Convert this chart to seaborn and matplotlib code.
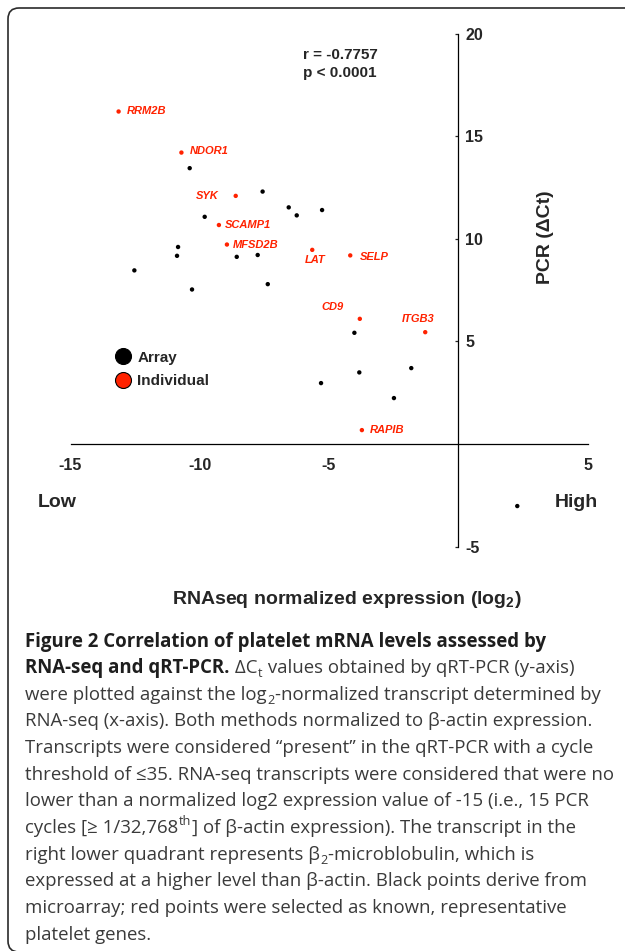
import numpy as np
import pandas as pd
import matplotlib
matplotlib.use("Agg")
import matplotlib.pyplot as plt
from matplotlib.patches import FancyBboxPatch
from matplotlib.lines import Line2D
from matplotlib.transforms import IdentityTransform
import seaborn as sns

# ---------------- data ----------------
array_x = [-10.39, -7.57, -6.56, -6.25, -5.27, -9.81, -10.84, -10.88, -8.57, -7.76,
           -12.53, -10.30, -7.37, -4.02, -3.83, -1.82, -5.31, -2.49, 2.28]
array_y = [13.44, 12.30, 11.53, 11.14, 11.40, 11.07, 9.60, 9.17, 9.12, 9.21,
           8.46, 7.53, 7.79, 5.42, 3.49, 3.70, 2.97, 2.24, -3.02]
genes = ["RRM2B", "NDOR1", "SYK", "SCAMP1", "MFSD2B", "LAT", "SELP", "CD9", "ITGB3", "RAPIB"]
gene_x = [-13.14, -10.71, -8.61, -9.26, -8.95, -5.65, -4.18, -3.81, -1.28, -3.73]
gene_y = [16.2, 14.2, 12.09, 10.67, 9.72, 9.46, 9.19, 6.10, 5.45, 0.68]
groups = ["Array", "Individual"]
x_ticks = [-15, -10, -5, 5]
y_ticks = [-5, 5, 10, 15, 20]
r_text = "r = -0.7757"
p_text = "p < 0.0001"

# ---------------- style ----------------
sns.set_style("white")
plt.rcParams["font.family"] = ["Liberation Sans", "DejaVu Sans"]
plt.rcParams["mathtext.fontset"] = "custom"
plt.rcParams["mathtext.rm"] = "Liberation Sans"
plt.rcParams["mathtext.bf"] = "Liberation Sans:bold"

RED = "#ff2200"
W, H = 625, 951
fig = plt.figure(figsize=(W / 100, H / 100), dpi=100)


def fx(px):
    return px / W


def fy(py):
    return 1 - py / H


ax = fig.add_axes([fx(70.5), fy(546.7), fx(587.6) - fx(70.5), fy(33.5) - fy(546.7)])
ax.patch.set_alpha(0)

df = pd.DataFrame({
    "x": array_x + gene_x,
    "y": array_y + gene_y,
    "group": [groups[0]] * len(array_x) + [groups[1]] * len(gene_x),
})
sns.scatterplot(data=df, x="x", y="y", hue="group",
                palette={groups[0]: "black", groups[1]: RED},
                s=10, linewidth=0, legend=False, ax=ax, clip_on=False)

ax.set_xlim(-15, 5)
ax.set_ylim(-5, 20)
ax.set_xlabel("")
ax.set_ylabel("")

for s in ["top", "left"]:
    ax.spines[s].set_visible(False)
ax.spines["bottom"].set_position(("data", 0))
ax.spines["right"].set_position(("data", 0))
for s in ["bottom", "right"]:
    ax.spines[s].set_linewidth(0.9)
    ax.spines[s].set_color("black")
ax.yaxis.tick_right()
ax.set_xticks(x_ticks)
ax.set_xticklabels([str(v) for v in x_ticks])
ax.set_yticks(y_ticks)
ax.set_yticklabels([str(v) for v in y_ticks])
ax.tick_params(axis="x", direction="in", length=3, width=0.9, pad=10, labelsize=11.5)
ax.tick_params(axis="y", direction="in", length=2.5, width=0.9, pad=5, labelsize=11.5)
for lab in ax.get_xticklabels() + ax.get_yticklabels():
    lab.set_fontweight("bold")

# gene labels (offsets in pixels, layout only)
label_layout = {
    "RRM2B": ((8, 1), "left"),
    "NDOR1": ((8, 2), "left"),
    "SYK": ((-17, 0), "right"),
    "SCAMP1": ((6, 0), "left"),
    "MFSD2B": ((6, 0), "left"),
    "LAT": ((3, -10), "center"),
    "SELP": ((10, -2), "left"),
    "CD9": ((-27, 12), "center"),
    "ITGB3": ((-7, 13), "center"),
    "RAPIB": ((8, 0), "left"),
}
for g, gx, gy in zip(genes, gene_x, gene_y):
    off, ha = label_layout[g]
    ax.annotate(g, (gx, gy), xytext=off, textcoords="offset pixels",
                ha=ha, va="center", color=RED, fontsize=8,
                fontweight="bold", fontstyle="italic", annotation_clip=False)

# legend
handles = [Line2D([], [], marker="o", linestyle="", markersize=11.5,
                  markerfacecolor=c, markeredgecolor="black", markeredgewidth=0.8)
           for c in ["black", RED]]
leg = ax.legend(handles, groups, loc="center left",
                bbox_to_anchor=(fx(115), fy(369.5)), bbox_transform=fig.transFigure,
                frameon=False, borderpad=0, borderaxespad=0, handlelength=1.0,
                handletextpad=0.45, labelspacing=0.65, prop={"size": 11, "weight": "bold"})

# annotations
fig.text(fx(302.8), fy(55), r_text, ha="left", va="center", fontsize=11, fontweight="bold")
fig.text(fx(302.8), fy(73), p_text, ha="left", va="center", fontsize=11, fontweight="bold")
fig.text(fx(57), fy(502), "Low", ha="center", va="center", fontsize=14, fontweight="bold")
fig.text(fx(576.5), fy(502), "High", ha="center", va="center", fontsize=14, fontweight="bold")
fig.text(fx(347), fy(600), r"RNAseq normalized expression (log$_\mathbf{2}$)",
         ha="center", va="center", fontsize=14, fontweight="bold")
fig.text(fx(545.8), fy(237), "PCR (ΔCt)", ha="center", va="center",
         rotation=90, fontsize=14, fontweight="bold")

# border
box = FancyBboxPatch((8, -1), 660, 944, boxstyle="round,pad=0,rounding_size=11",
                     transform=IdentityTransform(), facecolor="none",
                     edgecolor="#2b2b2b", linewidth=1.2)
fig.add_artist(box)

# caption
CAP_FONT = ["Open Sans", "DejaVu Sans"]
CAP_SIZE = 13.45
renderer = fig.canvas.get_renderer()
caption = [
    [("Figure 2 Correlation of platelet mRNA levels assessed by", "bold")],
    [("RNA-seq and qRT-PCR.", "bold"), (" ΔC", "n"), ("t", "sub"),
     (" values obtained by qRT-PCR (y-axis)", "n")],
    [("were plotted against the log", "n"), ("2", "sub"),
     ("-normalized transcript determined by", "n")],
    [("RNA-seq (x-axis). Both methods normalized to β-actin expression.", "n")],
    [("Transcripts were considered “present” in the qRT-PCR with a cycle", "n")],
    [("threshold of ≤35. RNA-seq transcripts were considered that were no", "n")],
    [("lower than a normalized log2 expression value of -15 (i.e., 15 PCR", "n")],
    [("cycles [≥ 1/32,768", "n"), ("th", "sup"),
     ("] of β-actin expression). The transcript in the", "n")],
    [("right lower quadrant represents β", "n"), ("2", "sub"),
     ("-microblobulin, which is", "n")],
    [("expressed at a higher level than β-actin. Black points derive from", "n")],
    [("microarray; red points were selected as known, representative", "n")],
    [("platelet genes.", "n")],
]
x0 = 25.0
base0 = 646.5
step = 26.65
px_per_pt = 100 / 72
for i, runs in enumerate(caption):
    xb = x0
    yb = H - (base0 + i * step)
    for txt, kind in runs:
        fs = CAP_SIZE * 0.68 if kind in ("sub", "sup") else CAP_SIZE
        dy = 0
        if kind == "sub":
            dy = -0.22 * CAP_SIZE * px_per_pt
        elif kind == "sup":
            dy = 0.42 * CAP_SIZE * px_per_pt
        t = fig.text(xb, yb + dy, txt, transform=IdentityTransform(),
                     ha="left", va="baseline", fontsize=fs, family=CAP_FONT,
                     fontweight="bold" if kind == "bold" else "normal",
                     color="#1e1e1e" if kind == "bold" else "#3a3a3a")
        xb = t.get_window_extent(renderer).x1 + 0.5

fig.savefig("out.png", dpi=100)
